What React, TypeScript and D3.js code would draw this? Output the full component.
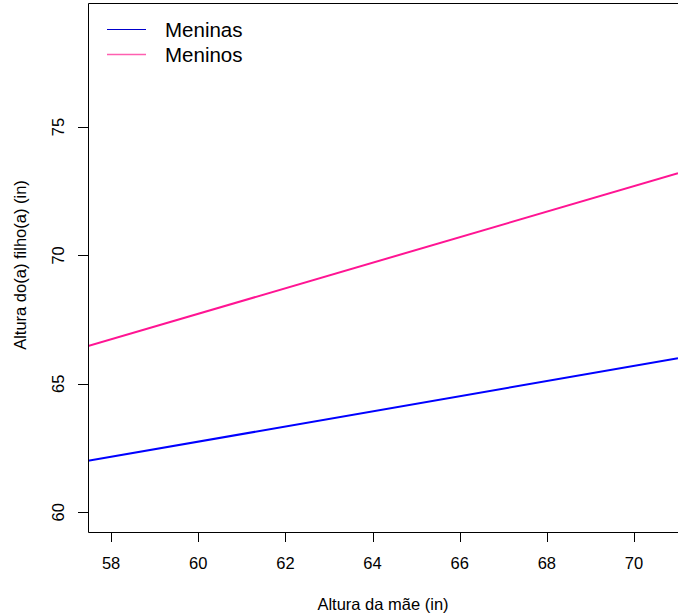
import React, { useEffect, useRef } from 'react';
import * as d3 from 'd3';

// visible window of the plot (data units)
const xDomain = [57.47, 71.01];
const yDomain = [59.23, 79.83];
const xTicks = [58, 60, 62, 64, 66, 68, 70];
const yTicks = [60, 65, 70, 75];

// fitted lines, read at the two edges of the window
const lineX = [57.47, 71.01];
const meninas = [62.0, 66.0];
const meninos = [66.47, 73.2];

const seriesNames = ['Meninas', 'Meninos'];
const seriesColors = ['#0000ff', '#ff1493'];
const legendColors = ['#0000cc', '#ff5fb0'];

const W = 678;
const H = 616;
const FONT = '"Liberation Sans", Arial, sans-serif';

export default function App() {
  const ref = useRef<SVGSVGElement>(null);

  useEffect(() => {
    const svg = d3.select(ref.current);
    svg.selectAll('*').remove();

    const left = 88, top = 3, bottom = 532, right = 678;
    const x = d3.scaleLinear().domain(xDomain).range([left, right]);
    const y = d3.scaleLinear().domain(yDomain).range([bottom, top]);

    svg.append('rect').attr('width', W).attr('height', H).attr('fill', '#fff');

    svg.append('clipPath').attr('id', 'clip')
      .append('rect').attr('x', left).attr('y', top).attr('width', right - left).attr('height', bottom - top);

    const data = [meninas, meninos];
    const line = d3.line<number>().x((d, i) => x(lineX[i])).y(d => y(d));
    svg.append('g').attr('clip-path', 'url(#clip)')
      .selectAll('path').data(data).enter().append('path')
      .attr('d', d => line(d))
      .attr('fill', 'none')
      .attr('stroke', (d, i) => seriesColors[i])
      .attr('stroke-width', 2);

    // box (right side falls off the window)
    svg.append('path')
      .attr('d', `M${right + 1},${top + 0.5}H${left + 0.5}V${bottom + 0.5}H${right + 1}`)
      .attr('fill', 'none').attr('stroke', '#000').attr('stroke-width', 1);

    // x axis
    const xa = svg.append('g');
    xa.selectAll('line').data(xTicks).enter().append('line')
      .attr('x1', d => Math.round(x(d)) + 0.5).attr('x2', d => Math.round(x(d)) + 0.5)
      .attr('y1', bottom).attr('y2', bottom + 10)
      .attr('stroke', '#000');
    xa.selectAll('text').data(xTicks).enter().append('text')
      .attr('x', d => x(d)).attr('y', 569)
      .attr('text-anchor', 'middle')
      .attr('font-family', FONT).attr('font-size', 16.5)
      .text(d => d);

    // y axis
    const ya = svg.append('g');
    ya.selectAll('line').data(yTicks).enter().append('line')
      .attr('x1', left - 10).attr('x2', left)
      .attr('y1', d => Math.round(y(d)) + 0.5).attr('y2', d => Math.round(y(d)) + 0.5)
      .attr('stroke', '#000');
    ya.selectAll('text').data(yTicks).enter().append('text')
      .attr('transform', d => `translate(63.5,${y(d)}) rotate(-90)`)
      .attr('text-anchor', 'middle')
      .attr('font-family', FONT).attr('font-size', 16.5)
      .text(d => d);

    svg.append('text')
      .attr('x', 383).attr('y', 610)
      .attr('text-anchor', 'middle')
      .attr('font-family', FONT).attr('font-size', 16.5)
      .text('Altura da mãe (in)');

    svg.append('text')
      .attr('transform', 'translate(25.5,265) rotate(-90)')
      .attr('text-anchor', 'middle')
      .attr('font-family', FONT).attr('font-size', 16.5)
      .text('Altura do(a) filho(a) (in)');

    // legend
    const lg = svg.append('g');
    seriesNames.forEach((name, i) => {
      const ly = 29.5 + i * 25;
      lg.append('line')
        .attr('x1', 107).attr('x2', 146).attr('y1', ly).attr('y2', ly)
        .attr('stroke', legendColors[i]).attr('stroke-width', i === 0 ? 1 : 1.6);
      lg.append('text')
        .attr('x', 165).attr('y', ly + 7.5)
        .attr('font-family', FONT).attr('font-size', 20.5)
        .text(name);
    });
  }, []);

  return (
    <svg ref={ref} width={W} height={H} style={{ display: 'block', position: 'absolute', left: 0, top: 0 }} />
  );
}
